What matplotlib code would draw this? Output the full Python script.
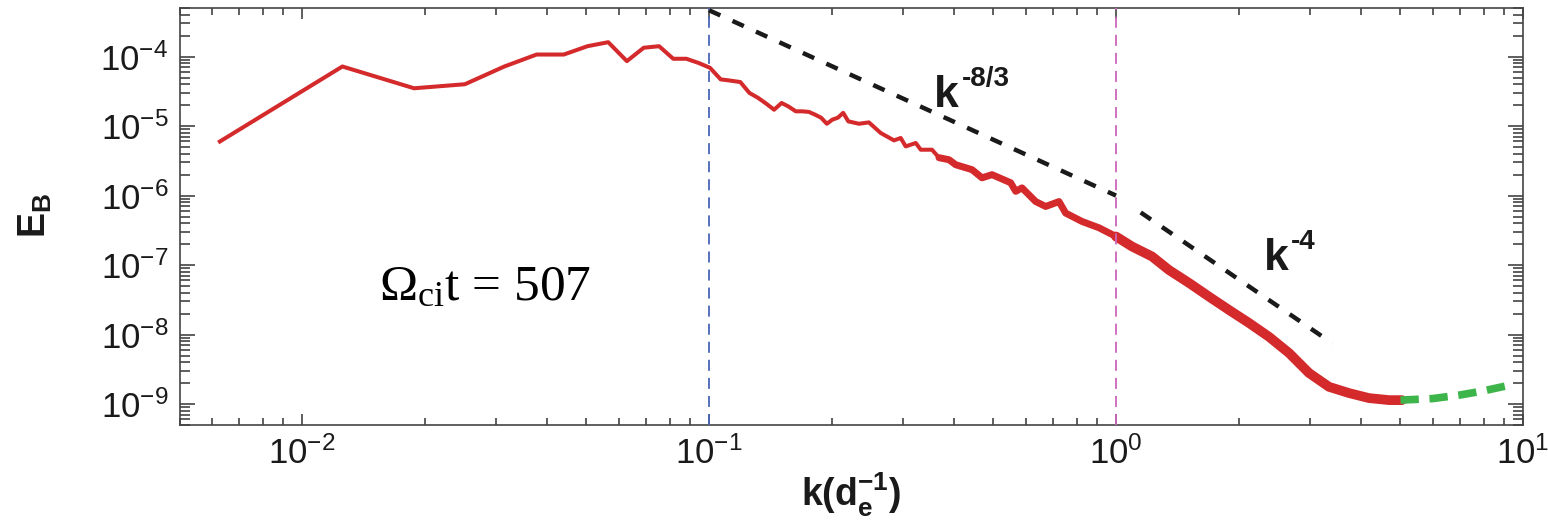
import matplotlib
matplotlib.use("Agg")
import matplotlib.pyplot as plt
from matplotlib.ticker import NullFormatter
import numpy as np

plt.rcParams["font.family"] = "Liberation Sans"
plt.rcParams["mathtext.fontset"] = "custom"
plt.rcParams["mathtext.rm"] = "Liberation Serif"
plt.rcParams["mathtext.bf"] = "Liberation Sans:bold"

# magnetic energy spectrum, lowest box modes (k = n * 2pi / L)
box_length = 1000.0
mode = np.arange(1, 36)
E_low = [6.0e-6, 7.2e-5, 3.5e-5, 4.0e-5, 7.2e-5, 1.07e-4, 1.07e-4, 1.41e-4,
         1.61e-4, 8.6e-5, 1.34e-4, 1.41e-4, 9.3e-5, 9.3e-5, 8.1e-5, 6.9e-5,
         4.7e-5, 4.5e-5, 4.3e-5, 3.0e-5, 2.55e-5, 2.1e-5, 1.72e-5, 2.15e-5,
         1.9e-5, 1.63e-5, 1.63e-5, 1.6e-5, 1.46e-5, 1.32e-5, 1.08e-5, 1.24e-5,
         1.32e-5, 1.55e-5, 1.17e-5]

# higher k, where the spectrum gets noisy
k_high = [0.2336, 0.2471, 0.2641, 0.2848, 0.2958, 0.3043, 0.3221, 0.3313,
          0.3531, 0.3673, 0.3888, 0.4037, 0.4428, 0.4686, 0.4958, 0.5510,
          0.5671, 0.5875, 0.6349, 0.6718, 0.7244, 0.7521, 0.8252, 0.9082,
          1.0, 1.095, 1.226, 1.349, 1.511, 1.692, 1.895, 2.122, 2.376,
          2.661, 2.980, 3.337, 3.737, 4.183, 4.687, 5.04]
E_high = [1.08e-5, 1.13e-5, 7.96e-6, 6.22e-6, 6.74e-6, 5.1e-6, 5.71e-6, 4.57e-6,
          4.57e-6, 3.51e-6, 3.28e-6, 2.78e-6, 2.36e-6, 1.80e-6, 2.0e-6, 1.53e-6,
          1.15e-6, 1.29e-6, 8.2e-7, 6.97e-7, 8.2e-7, 5.6e-7, 4.24e-7, 3.44e-7,
          2.58e-7, 1.85e-7, 1.33e-7, 8.5e-8, 5.54e-8, 3.52e-8, 2.26e-8, 1.47e-8,
          9.3e-9, 5.43e-9, 2.80e-9, 1.77e-9, 1.44e-9, 1.22e-9, 1.14e-9, 1.14e-9]

# noise floor part
k_noise = [5.0, 6.0, 7.0, 8.0, 9.0, 9.4]
E_noise = [1.14e-9, 1.2e-9, 1.35e-9, 1.55e-9, 1.8e-9, 1.9e-9]

# reference power laws
amp = 1e-6
k_slope1 = np.array([0.1, 1.0])
k_slope2 = np.array([1.15, 3.4])

k_low = mode * 2 * np.pi / box_length
k_all = np.concatenate([k_low, k_high])
E_all = np.concatenate([E_low, E_high])

fig = plt.figure(figsize=(15.48, 5.26), dpi=100)
ax = fig.add_axes([179.5 / 1548, 1 - 425 / 526, (1523 - 179.5) / 1548, 417 / 526])

red = "#d42a2c"
m1 = k_all <= 0.37
m2 = (k_all >= 0.36) & (k_all <= 1.0)
m3 = k_all >= 1.0
ax.plot(k_all[m1], E_all[m1], color=red, lw=2.9, solid_joinstyle="round", zorder=2)
ax.plot(k_all[m2], E_all[m2], color=red, lw=5, solid_joinstyle="round",
        solid_capstyle="round", zorder=2)
ax.plot(k_all[m3], E_all[m3], color=red, lw=7, solid_joinstyle="round",
        solid_capstyle="round", zorder=2)
ax.plot(k_noise, E_noise, color="#3db54a", lw=5.5, dashes=(2.4, 1.4), zorder=2)

ax.plot(k_slope1, amp * k_slope1 ** (-8 / 3), color="#1a1a1a", lw=3.2,
        dashes=(2.8, 3.0), zorder=3)
ax.plot(k_slope2, amp * k_slope2 ** (-4.0), color="#1a1a1a", lw=3.2,
        dashes=(2.8, 3.0), zorder=3)

ax.axvline(0.1, color="#4a66b8", lw=1.3, dashes=(6.1, 3.9), zorder=4)
ax.axvline(1.0, color="#cc66bb", lw=1.3, dashes=(6.1, 3.9), zorder=4)

ax.set_xscale("log")
ax.set_yscale("log")
ax.set_xlim(5e-3, 10)
ax.set_ylim(5e-10, 5e-4)
ax.xaxis.set_minor_formatter(NullFormatter())
ax.yaxis.set_minor_formatter(NullFormatter())

ax.tick_params(which="both", direction="in", top=True, right=True,
               width=1.1, color="#333333", labelsize=25, labelcolor="#1a1a1a", pad=8)
ax.tick_params(axis="x", which="major", length=8)
ax.tick_params(axis="x", which="minor", length=5)
ax.tick_params(axis="y", which="major", length=10.5)
ax.tick_params(axis="y", which="minor", length=7)
for s in ax.spines.values():
    s.set_linewidth(1.2)
    s.set_color("#444444")

# slope labels
ax.text(0.357, 1.9e-5, "k", fontsize=32, fontweight="bold", color="#1a1a1a",
        ha="left", va="baseline")
ax.annotate("-8/3", xy=(0.357, 1.9e-5), xytext=(20, 15), textcoords="offset points",
            fontsize=20, fontweight="bold", color="#1a1a1a", ha="left", va="baseline")
ax.text(2.31, 8.5e-8, "k", fontsize=32, fontweight="bold", color="#1a1a1a",
        ha="left", va="baseline")
ax.annotate("-4", xy=(2.31, 8.5e-8), xytext=(19, 15), textcoords="offset points",
            fontsize=20, fontweight="bold", color="#1a1a1a", ha="left", va="baseline")

ax.text(0.01546, 3.16e-8, r"$\mathrm{\Omega_{ci}t}$ = 507", fontsize=37,
        family="Liberation Serif", color="black", ha="left", va="baseline")

ax.set_xlabel(r"$\mathbf{k(d_e^{-1})}$", fontsize=27, color="#1a1a1a", labelpad=0)
fig.text(35 / 1548, 1 - 215 / 526, r"$\mathbf{E_B}$", fontsize=27, color="#1a1a1a",
         rotation=90, ha="center", va="center")

fig.savefig("out.png", dpi=100)
